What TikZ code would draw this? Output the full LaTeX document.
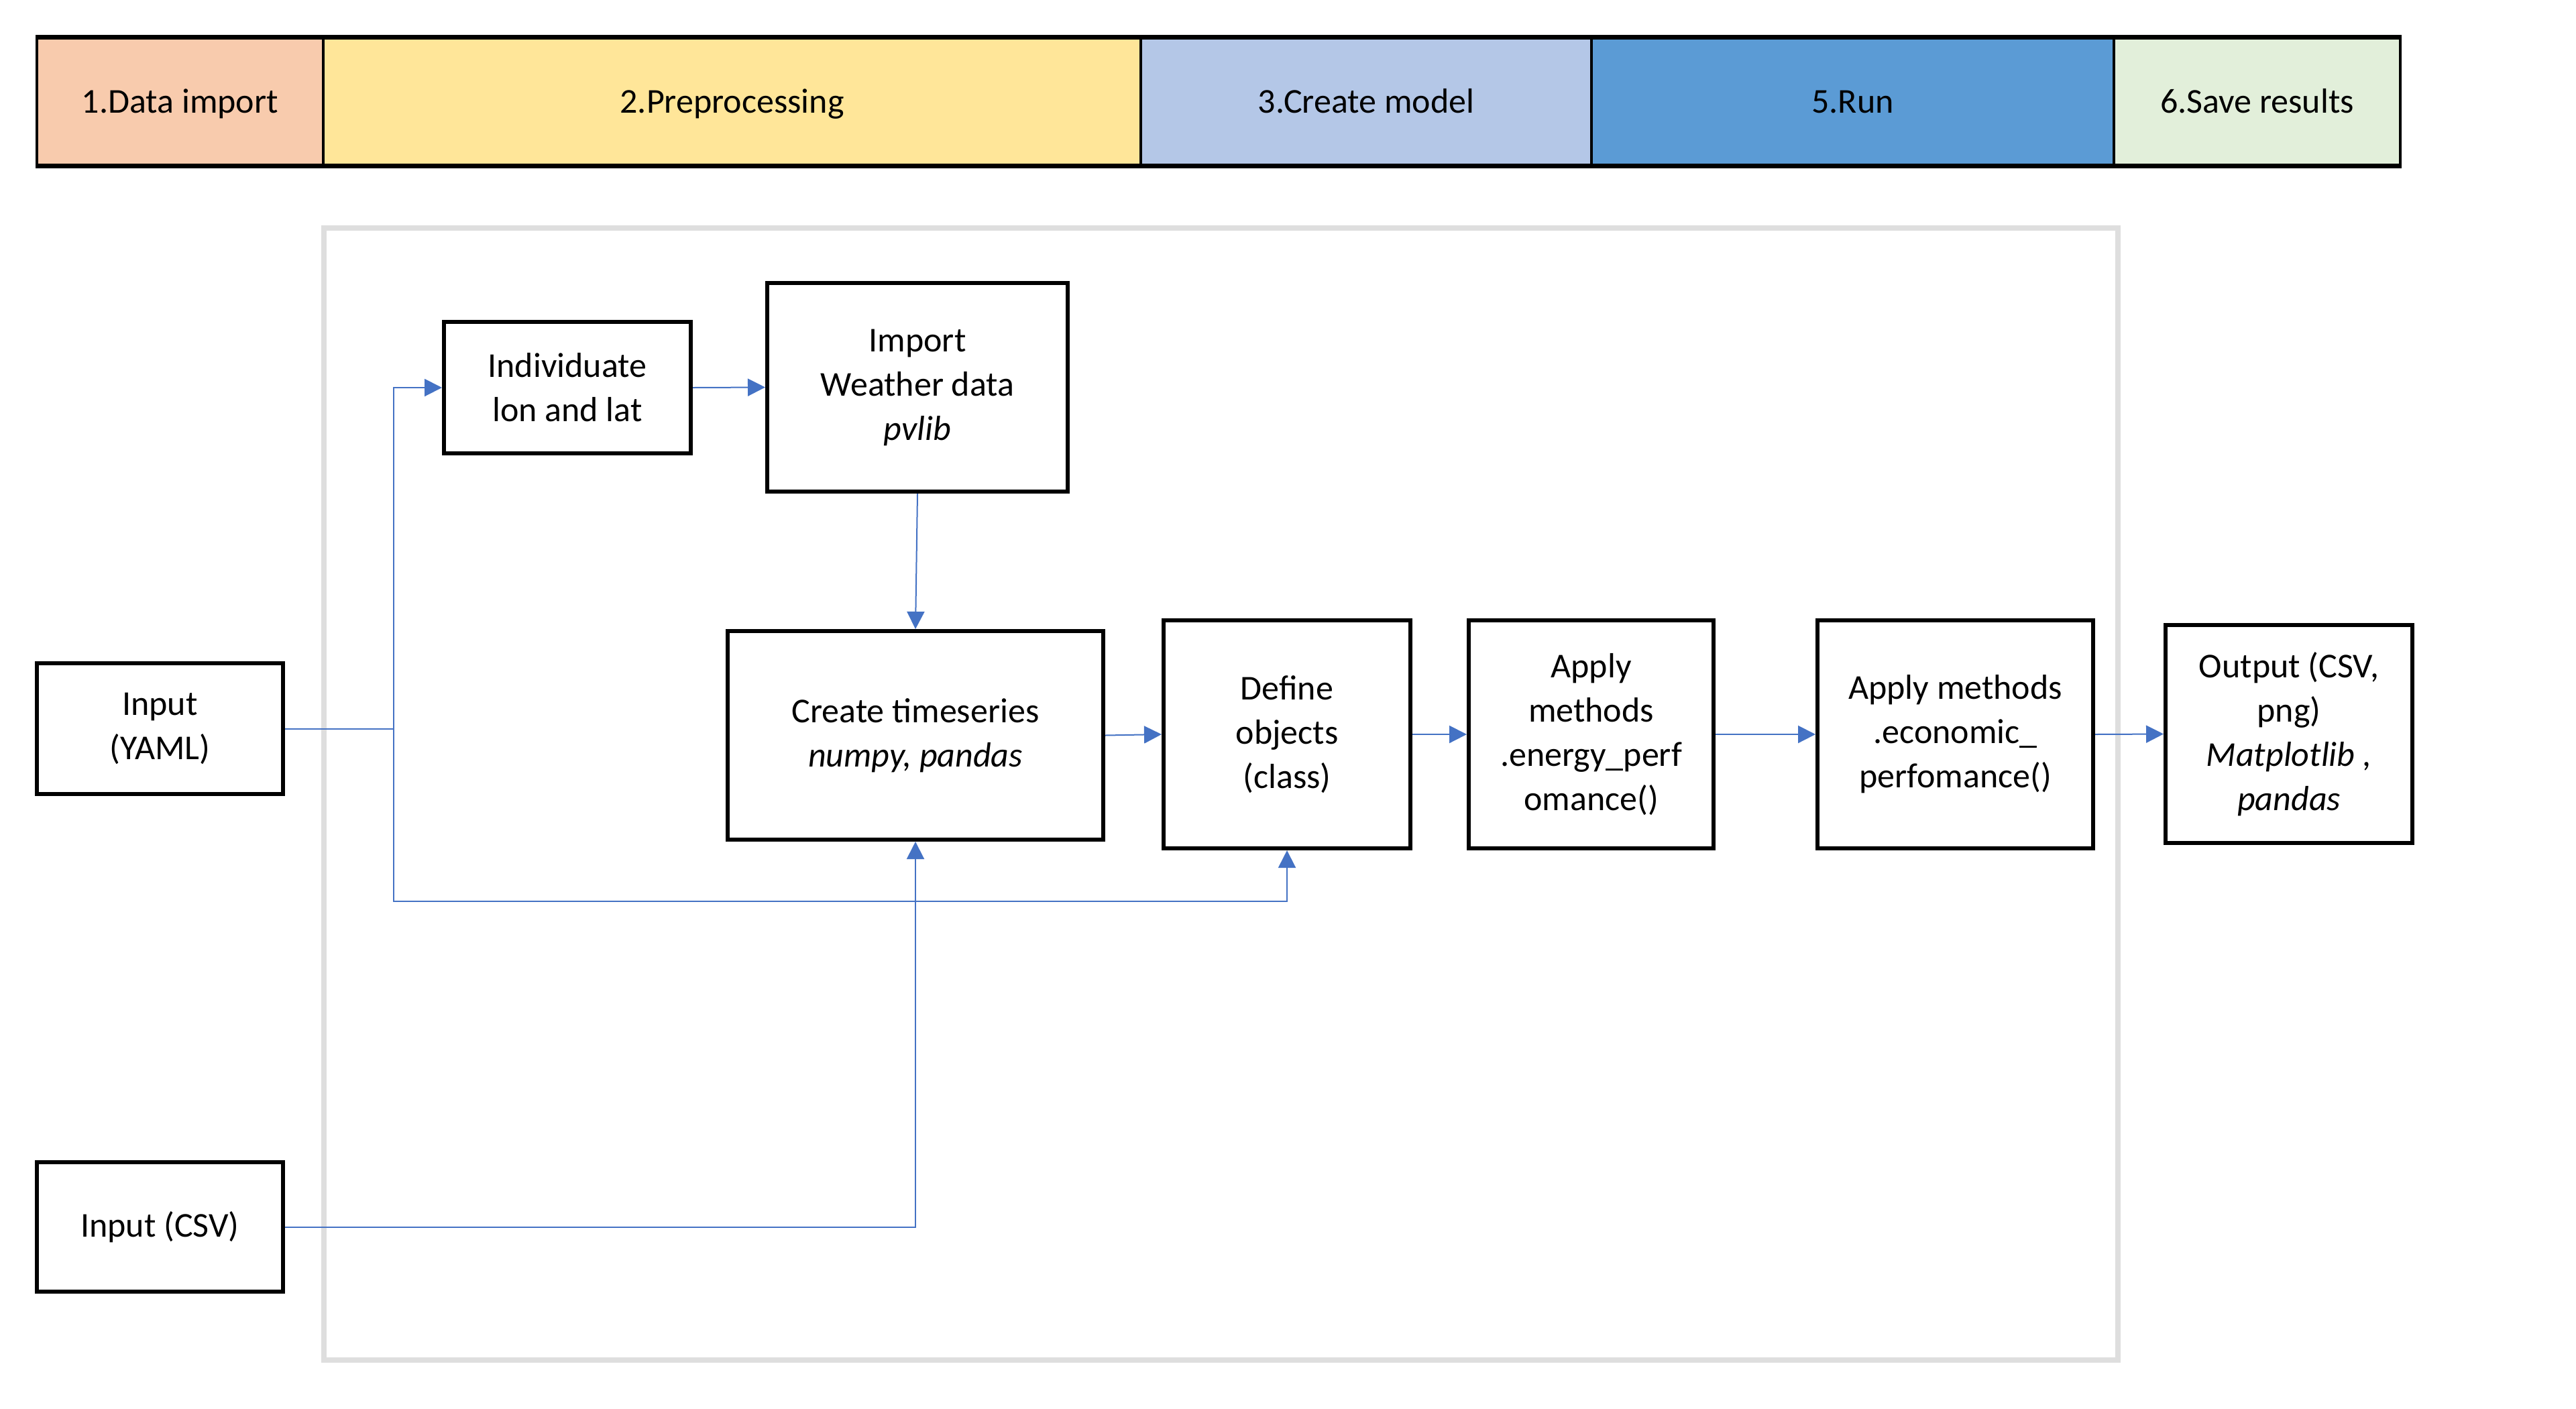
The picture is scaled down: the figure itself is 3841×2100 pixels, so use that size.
\documentclass[tikz,border=0pt]{standalone}
\usepackage{fontspec}
\setmainfont{Carlito}
\usetikzlibrary{arrows.meta}
\definecolor{cImport}{HTML}{F8CBAD}
\definecolor{cPre}{HTML}{FFE699}
\definecolor{cModel}{HTML}{B4C7E7}
\definecolor{cRun}{HTML}{5B9BD5}
\definecolor{cSave}{HTML}{E2EFDA}
\definecolor{cLink}{HTML}{4472C4}
\definecolor{cFrame}{HTML}{DEDEDE}
\tikzset{
  txt/.style={font=\fontsize{13}{16.5}\selectfont, align=center, text=black},
  phase/.style={txt, draw=black, line width=0.85pt, inner sep=0pt, minimum height=47.25pt, text height=8.4pt, text depth=0pt},
  stepbox/.style={txt, draw=black, line width=1.5pt, fill=white, inner sep=0pt},
  conn/.style={draw=cLink, line width=0.5pt},
  link/.style={conn, -{Triangle[length=6.5pt,width=6.5pt]}},
}
\begin{document}
\begin{tikzpicture}[x=0.25pt,y=-0.25pt]
\useasboundingbox (0,0) rectangle (3841,2100);
% phase bar
\node[phase, fill=cImport, minimum width=106.75pt] (p1) at (268.5,151.5) {1.Data import};
\node[phase, fill=cPre, minimum width=304.75pt] (p2) at (1091.5,151.5) {2.Preprocessing};
\node[phase, fill=cModel, minimum width=168pt] (p3) at (2037,151.5) {3.Create model};
\node[phase, fill=cRun, minimum width=194.75pt] (p4) at (2762.5,151.5) {5.Run};
\node[phase, fill=cSave, minimum width=106.75pt] (p5) at (3365.5,151.5) {6.Save results};
\draw[line width=1.45pt] (p1.north west) -- (p5.north east);
\draw[line width=1.45pt] (p1.south west) -- (p5.south east);
% frame
\draw[cFrame, line width=2.2pt] (483,340) rectangle (3158,2028);
% boxes
\node[stepbox, minimum width=91.75pt, minimum height=48.75pt] (yaml) at (238.5,1086.5) {Input\\(YAML)};
\node[stepbox, minimum width=91.75pt, minimum height=48.25pt] (csv) at (238.5,1829.5) {Input (CSV)};
\node[stepbox, minimum width=92pt, minimum height=49pt] (indiv) at (846,578) {Individuate\\lon and lat};
\node[stepbox, minimum width=112pt, minimum height=77.75pt] (weather) at (1368,577.5) {Import\\Weather data\\\textit{pvlib}};
\node[stepbox, minimum width=140pt, minimum height=77.75pt] (ts) at (1365,1096.5) {Create timeseries\\\textit{numpy, pandas}};
\node[stepbox, minimum width=92pt, minimum height=85pt] (define) at (1919,1095) {Define\\objects\\(class)};
\node[stepbox, minimum width=91.25pt, minimum height=85pt] (energy) at (2372.5,1095) {Apply\\methods\\.energy\_perf\\omance()};
\node[stepbox, minimum width=102.75pt, minimum height=85pt] (econ) at (2915.5,1095) {Apply methods\\.economic\_\\perfomance()};
\node[stepbox, minimum width=92pt, minimum height=81.25pt] (output) at (3413,1094.5) {Output (CSV,\\png)\\\textit{Matplotlib ,}\\\textit{pandas}};
% connectors
\coordinate (j) at (587,1086.5);
\coordinate (jb) at (587,1344);
\draw[conn] (yaml.east |- j) -- (j);
\draw[link] (j) |- (indiv.west);
\draw[link] (j) -- (jb) -| (define.south);
\draw[link] (indiv.east) -- (weather.west);
\draw[link] (weather.south) -- (ts.north);
\draw[link] (csv.east) -| (ts.south);
\draw[link] (ts.east) -- (define.west);
\draw[link] (define.east) -- (energy.west);
\draw[link] (energy.east) -- (econ.west);
\draw[link] (econ.east) -- (output.west);
\end{tikzpicture}
\end{document}
